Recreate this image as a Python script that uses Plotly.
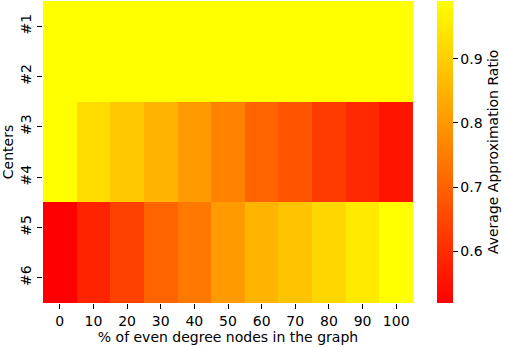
import plotly.graph_objects as go

x_vals = [0, 10, 20, 30, 40, 50, 60, 70, 80, 90, 100]
y_labels = ["#1", "#2", "#3", "#4", "#5", "#6"]

row_1 = [0.99, 0.99, 0.99, 0.99, 0.99, 0.99, 0.99, 0.99, 0.99, 0.99, 0.99]
row_2 = [0.99, 0.99, 0.99, 0.99, 0.99, 0.99, 0.99, 0.99, 0.99, 0.99, 0.99]
row_3 = [0.99, 0.925, 0.889, 0.852, 0.806, 0.760, 0.704, 0.677, 0.631, 0.594, 0.557]
row_4 = [0.99, 0.925, 0.889, 0.852, 0.806, 0.760, 0.704, 0.677, 0.631, 0.594, 0.557]
row_5 = [0.52, 0.585, 0.640, 0.704, 0.741, 0.806, 0.852, 0.879, 0.916, 0.952, 0.99]
row_6 = [0.52, 0.585, 0.640, 0.704, 0.741, 0.806, 0.852, 0.879, 0.916, 0.952, 0.99]

z = [row_1, row_2, row_3, row_4, row_5, row_6]

font = dict(family="DejaVu Sans", size=14, color="black")

fig = go.Figure(go.Heatmap(
    x=x_vals, y=y_labels, z=z,
    zmin=0.52, zmax=0.99,
    colorscale=[[0, "rgb(255,0,0)"], [1, "rgb(255,255,0)"]],
    xgap=0, ygap=0,
    colorbar=dict(
        thickness=16, thicknessmode="pixels",
        len=302, lenmode="pixels",
        x=437 / 505, xref="container", xanchor="left", xpad=0,
        y=1 - 1 / 347, yref="container", yanchor="top", ypad=0,
        outlinewidth=0,
        ticks="outside", ticklen=5, tickwidth=1, tickcolor="black",
        tickvals=[0.6, 0.7, 0.8, 0.9],
        ticktext=["0.6", "0.7", "0.8", "0.9"],
        tickfont=font,
        title=dict(text="Average Approximation Ratio", side="right", font=font),
    ),
))

fig.update_layout(
    width=505, height=347,
    margin=dict(l=43, r=92, t=1, b=44, autoexpand=False),
    plot_bgcolor="white", paper_bgcolor="white",
    font=font,
    xaxis=dict(
        tickmode="array", tickvals=x_vals, ticktext=[str(v) for v in x_vals],
        ticks="outside", ticklen=5, tickwidth=1, tickcolor="black",
        showgrid=False, zeroline=False, showline=False,
        title=dict(text="% of even degree nodes in the graph", standoff=0, font=font),
        tickfont=font, automargin=False,
    ),
    yaxis=dict(
        autorange="reversed",
        ticks="outside", ticklen=5, tickwidth=1, tickcolor="black",
        tickangle=-90,
        showgrid=False, zeroline=False, showline=False,
        title=dict(text="Centers", standoff=4, font=font),
        tickfont=font, automargin=False,
    ),
)

fig.write_html("out.html", config={"displayModeBar": False},
               post_script="document.body.style.margin='0px';")
